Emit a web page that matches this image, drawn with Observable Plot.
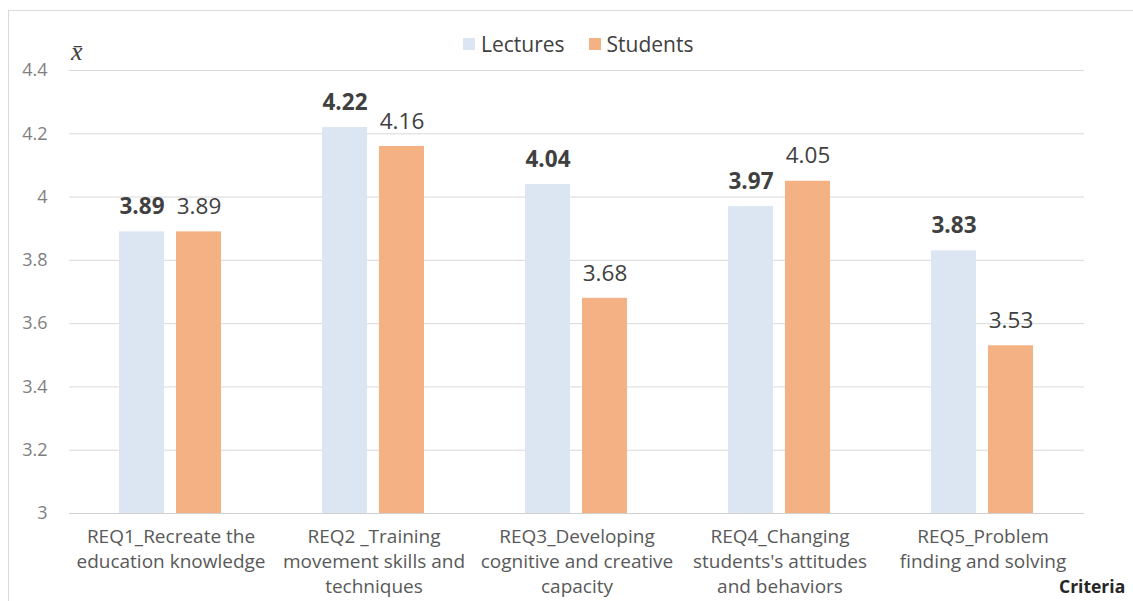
<!DOCTYPE html>
<html>
<head>
<meta charset="utf-8">
<script src="https://cdn.jsdelivr.net/npm/d3@7"></script>
<script src="https://cdn.jsdelivr.net/npm/@observablehq/plot@0.6"></script>
<style>
  html, body { margin: 0; padding: 0; background: #fff; }
  #wrap { position: relative; width: 1133px; height: 601px; overflow: hidden; font-family: "Open Sans", sans-serif; }
  #frame { position: absolute; left: 8px; top: 10px; width: 1140px; height: 600px; border: 1px solid #d9d9d9; box-sizing: border-box; }
  #chart { position: absolute; left: 0; top: 0; }
  #legend { position: absolute; top: 30px; left: 463px; display: flex; align-items: center; font-size: 21px; color: #404040; }
  #legend .sw { width: 12px; height: 12px; display: inline-block; margin-right: 6px; }
  #legend .item { display: flex; align-items: center; margin-right: 24px; }
  #xbar { position: absolute; left: 71px; top: 37px; font-family: "Liberation Serif", serif; font-style: italic; font-size: 26px; color: #404040; }
  #crit { position: absolute; left: 1059px; top: 574px; font-size: 17.5px; font-weight: bold; color: #262626; }
</style>
</head>
<body>
<div id="wrap">
  <div id="frame"></div>
  <div id="chart"></div>
  <div id="legend"></div>
  <div id="xbar">x̄</div>
  <div id="crit">Criteria</div>
</div>
<script>
const categories = [
  "REQ1_Recreate the\neducation knowledge",
  "REQ2 _Training\nmovement skills and\ntechniques",
  "REQ3_Developing\ncognitive and creative\ncapacity",
  "REQ4_Changing\nstudents's attitudes\nand behaviors",
  "REQ5_Problem\nfinding and solving"
];
const series = ["Lectures", "Students"];
const lectures = [3.89, 4.22, 4.04, 3.97, 3.83];
const students = [3.89, 4.16, 3.68, 4.05, 3.53];
const yTicks = [3, 3.2, 3.4, 3.6, 3.8, 4, 4.2, 4.4];
const colors = ["#dce6f2", "#f4b183"];

const data = [];
categories.forEach((c, i) => {
  data.push({category: c, series: series[0], value: lectures[i]});
  data.push({category: c, series: series[1], value: students[i]});
});

const chart = Plot.plot({
  width: 1133,
  height: 601,
  marginLeft: 67,
  marginRight: 48,
  marginTop: 70,
  marginBottom: 88,
  style: {fontFamily: "Open Sans, sans-serif", background: "transparent"},
  fx: {domain: categories, padding: 0, label: null},
  x: {domain: series, paddingInner: 0.21, paddingOuter: 0.86, axis: null},
  y: {domain: [3, 4.4], label: null},
  color: {domain: series, range: colors},
  marks: [
    Plot.gridY(yTicks, {stroke: "#d9d9d9", strokeOpacity: 1}),
    Plot.axisY(yTicks, {tickSize: 0, tickPadding: 22, fontSize: 18, fill: "#7f7f7f",
      tickFormat: d => String(+d.toFixed(1)), label: null}),
    Plot.axisFx({anchor: "bottom", tickSize: 0, tickPadding: 12, fontSize: 19, lineHeight: 1.32, fill: "#595959", label: null}),
    Plot.barY(data, {fx: "category", x: "series", y1: 3, y2: "value", fill: "series"}),
    Plot.ruleY([3], {stroke: "#d0d0d0"}),
    Plot.text(data.filter(d => d.series === "Lectures"), {fx: "category", x: "series", y: "value",
      text: d => d.value.toFixed(2), dy: -25, fontSize: 22.5, fontWeight: "bold", fill: "#404040"}),
    Plot.text(data.filter(d => d.series === "Students"), {fx: "category", x: "series", y: "value",
      text: d => d.value.toFixed(2), dy: -25, fontSize: 22.5, fill: "#404040"})
  ]
});
document.getElementById("chart").appendChild(chart);

const legend = document.getElementById("legend");
series.forEach((s, i) => {
  const item = document.createElement("div");
  item.className = "item";
  const sw = document.createElement("span");
  sw.className = "sw";
  sw.style.background = colors[i];
  const lab = document.createElement("span");
  lab.textContent = s;
  item.appendChild(sw);
  item.appendChild(lab);
  legend.appendChild(item);
});
</script>
</body>
</html>
